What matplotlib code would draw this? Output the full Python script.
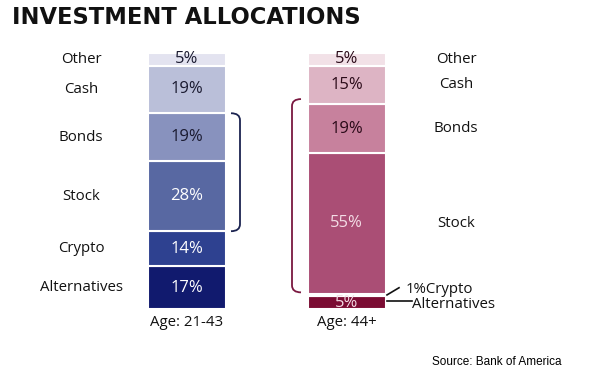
import matplotlib
matplotlib.use("Agg")
import matplotlib.pyplot as plt
from matplotlib.path import Path
from matplotlib.patches import PathPatch

categories = ["Alternatives", "Crypto", "Stock", "Bonds", "Cash", "Other"]
young = [17, 14, 28, 19, 19, 5]
old = [5, 1, 55, 19, 15, 5]
bar_labels = ["Age: 21-43", "Age: 44+"]
title = "INVESTMENT ALLOCATIONS"
source = "Source: Bank of America"

young_colors = ["#111a6e", "#2e4190", "#5868a2", "#8892be", "#babfd9", "#e3e3f0"]
old_colors = ["#7b0c33", "#e9c6d3", "#aa4e75", "#c7819d", "#ddb4c4", "#f2e1e7"]
young_text = ["white", "white", "white", "#1a1a30", "#1a1a30", "#1a1a30"]
old_text = ["#f4dde6", None, "#f4dde6", "#2a0a18", "#2a0a18", "#2a0a18"]

FONT = "Open Sans"
fig = plt.figure(figsize=(6, 3.85), dpi=100)
ax = fig.add_axes([0, 0, 1, 1])
ax.set_xlim(0, 600)
ppu = 2.56  # pixels per percent unit
ax.set_ylim(-76 / ppu, (385 - 76) / ppu)
ax.axis("off")


def shares(vals):
    tot = sum(vals)
    return [v / tot * 100 for v in vals]


def stack(xc, vals, colors):
    h = shares(vals)
    bottoms = []
    b = 0
    for hv, c in zip(h, colors):
        ax.bar(xc, hv, bottom=b, width=78, color=c, edgecolor="white", linewidth=1.5)
        bottoms.append(b)
        b += hv
    return h, bottoms


x_young, x_old = 187, 346.5
hy, by = stack(x_young, young, young_colors)
ho, bo = stack(x_old, old, old_colors)

# values inside bars
for v, h, b, tc in zip(young, hy, by, young_text):
    ax.text(x_young, b + h / 2, f"{v}%", ha="center", va="center", color=tc,
            fontsize=12, family=FONT)
for v, h, b, tc in zip(old, ho, bo, old_text):
    if tc is None:
        continue
    ax.text(x_old, b + h / 2, f"{v}%", ha="center", va="center", color=tc,
            fontsize=12, family=FONT)

# category labels
for cat, h, b in zip(categories, hy, by):
    ax.text(81, b + h / 2, cat, ha="center", va="center", fontsize=10.8,
            family=FONT, color="#111111")
for cat, h, b in zip(categories[2:], ho[2:], bo[2:]):
    ax.text(456, b + h / 2, cat, ha="center", va="center", fontsize=10.8,
            family=FONT, color="#111111")

# crypto & alternatives callouts for old bar
cy = bo[1] + ho[1] / 2
ay = bo[0] + ho[0] / 2
ax.plot([387, 399], [cy, cy + 2.8], color="#111111", lw=1.2)
ax.text(406, cy + 2.0, f"{old[1]}%{categories[1]}", ha="left", va="center",
        fontsize=10.8, family=FONT, color="#111111")
ax.plot([387, 412], [ay + 0.8, ay + 0.8], color="#111111", lw=1.2)
ax.text(412, ay - 0.8, categories[0], ha="left", va="center",
        fontsize=10.8, family=FONT, color="#111111")

# bar labels
for xc, lab in zip([x_young, x_old], bar_labels):
    ax.text(xc, -13 / ppu - 0.3, lab, ha="center", va="center", fontsize=10.8,
            family=FONT, color="#111111")


def bracket(x_line, x_end, y0, y1, color):
    r = 7 / ppu
    verts = [(x_end, y1), (x_line, y1), (x_line, y1 - r),
             (x_line, y0 + r), (x_line, y0), (x_end, y0)]
    codes = [Path.MOVETO, Path.CURVE3, Path.CURVE3, Path.LINETO,
             Path.CURVE3, Path.CURVE3]
    ax.add_patch(PathPatch(Path(verts, codes), fill=False, edgecolor=color, lw=1.3))


bracket(240, 231, by[2], by[3] + hy[3], "#1b2350")
bracket(292, 301, bo[2] + 0.5, bo[3] + ho[3] + 2, "#7a1840")

fig.text(12 / 600, 1 - 17 / 385, title, ha="left", va="center", fontsize=16.3,
         fontweight="bold", family="DejaVu Sans", color="#111111")
fig.text(432 / 600, 1 - 362 / 385, source, ha="left", va="center", fontsize=8.5,
         family="Liberation Sans", color="black")

fig.savefig("out.png", dpi=100, facecolor="white")
